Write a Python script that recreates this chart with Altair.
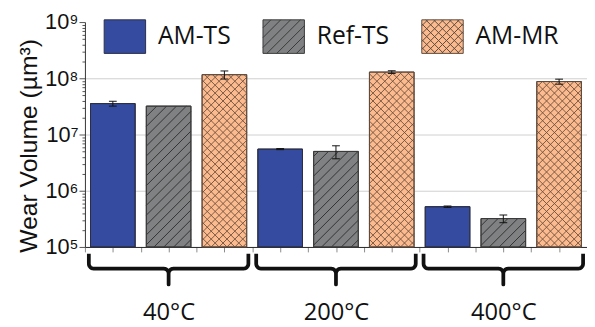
import math
import altair as alt
import pandas as pd

# ---------------- data ----------------
groups = ["40°C", "200°C", "400°C"]
series = ["AM-TS", "Ref-TS", "AM-MR"]
am_ts = [3.55e7, 5.5e6, 5.2e5]
am_ts_err = [0.35e7, 0.12e6, 0.15e5]
ref_ts = [3.2e7, 5.0e6, 3.2e5]
ref_ts_err = [0.0, 1.3e6, 0.5e5]
am_mr = [1.16e8, 1.29e8, 8.75e7]
am_mr_err = [0.19e8, 0.07e8, 0.9e7]

fill_colors = ["#344b9f", "#7f8182", "#fbbb8f"]
edge_colors = ["#2c2f45", "#3a3a3a", "#5e4a3e"]
hatch_ref_color = "#333333"
hatch_mr_color = "#6e4e3c"

# ---------------- layout ----------------
W, H = 509, 228
Y_LO, Y_HI = 1e5, 1e9
N_SLOTS = len(groups) * len(series)
SX = W / N_SLOTS
SY = H / (math.log10(Y_HI) - math.log10(Y_LO))
BAR_PAD = 0.1
CAP = 0.07

values = dict(zip(series, [am_ts, ref_ts, am_mr]))
errors = dict(zip(series, [am_ts_err, ref_ts_err, am_mr_err]))

rows = []
for g, grp in enumerate(groups):
    for s, ser in enumerate(series):
        i = g * len(series) + s
        v = values[ser][g]
        e = errors[ser][g]
        rows.append(dict(group=grp, series=ser, x0=i + BAR_PAD, x1=i + 1 - BAR_PAD,
                         xc=i + 0.5, value=v, base=Y_LO, lo=v - e, hi=v + e, err=e))
bars = pd.DataFrame(rows)


def hatch_segments(x0, x1, v, slope, spacing_px):
    X0, X1 = x0 * SX, x1 * SX
    Y0, Y1 = 0.0, (math.log10(v) - math.log10(Y_LO)) * SY
    out = []
    if slope > 0:
        cmin, cmax = Y0 - X1, Y1 - X0
    else:
        cmin, cmax = X0 + Y0, X1 + Y1
    k = math.ceil(cmin / spacing_px)
    while k * spacing_px <= cmax:
        c = k * spacing_px
        if slope > 0:
            xa, xb = max(X0, Y0 - c), min(X1, Y1 - c)
            ya, yb = xa + c, xb + c
        else:
            xa, xb = max(X0, c - Y1), min(X1, c - Y0)
            ya, yb = c - xa, c - xb
        if xb - xa > 0.5:
            out.append(dict(hx=xa / SX, hx2=xb / SX,
                            hy=Y_LO * 10 ** (ya / SY), hy2=Y_LO * 10 ** (yb / SY)))
        k += 1
    return out


ref_h, mr_h = [], []
for r in rows:
    if r["series"] == "Ref-TS":
        ref_h += hatch_segments(r["x0"], r["x1"], r["value"], 1, 10.0)
    if r["series"] == "AM-MR":
        mr_h += hatch_segments(r["x0"], r["x1"], r["value"], 1, 8.0)
        mr_h += hatch_segments(r["x0"], r["x1"], r["value"], -1, 8.0)
ref_h = pd.DataFrame(ref_h)
mr_h = pd.DataFrame(mr_h)

errs = bars[bars["err"] > 0].copy()
caps = []
for _, r in errs.iterrows():
    for yv in (r["lo"], r["hi"]):
        caps.append(dict(cx=r["xc"] - CAP, cx2=r["xc"] + CAP, cy=yv))
caps = pd.DataFrame(caps)

# braces (decoration under each temperature group)
B_INSET, B_R, B_LINE, B_TIP = 0.07, 5.0, 15.0, 31.0
brace = []


def arc(cx, cy, a0, a1, n=6):
    return [(cx + B_R * math.cos(math.radians(a0 + (a1 - a0) * t / n)),
             cy + B_R * math.sin(math.radians(a0 + (a1 - a0) * t / n))) for t in range(n + 1)]


for g, grp in enumerate(groups):
    L = (g * 3 + B_INSET) * SX
    R = (g * 3 + 3 - B_INSET) * SX
    M = (g * 3 + 1.5) * SX
    pts = [(L, 0.0)]
    pts += arc(L + B_R, B_LINE - B_R, 180, 90)
    pts += arc(M - B_R, B_LINE + B_R, -90, 0)
    pts += [(M, B_TIP), (M, B_LINE + B_R)]
    pts += arc(M + B_R, B_LINE + B_R, 180, 270)
    pts += arc(R - B_R, B_LINE - B_R, 90, 0)
    pts += [(R, 0.0)]
    for k, (px, py) in enumerate(pts):
        brace.append(dict(group=grp, k=k, bx=px / SX, by=py))
brace = pd.DataFrame(brace)

# legend swatch shapes (unit square paths incl. hatch)
SW_W, SW_H = 42.0, 34.0


def swatch_path(dirs, spacing_px):
    h = SW_H / SW_W
    parts = [f"M-1,{-h:.3f}L1,{-h:.3f}L1,{h:.3f}L-1,{h:.3f}Z"]
    sp = spacing_px * 2 / SW_W
    for d in dirs:
        k = math.ceil((-1 - h) / sp)
        while k * sp <= 1 + h:
            c = k * sp
            xa, xb = max(-1, c - h), min(1, c + h)
            if xb - xa > 0.02:
                if d > 0:
                    ya, yb = c - xa, c - xb
                else:
                    ya, yb = xa - c, xb - c
                parts.append(f"M{xa:.3f},{ya:.3f}L{xb:.3f},{yb:.3f}")
            k += 1
    return "".join(parts)


shapes = [swatch_path([], 10), swatch_path([1], 10.0), swatch_path([1, -1], 8.0)]
leg_pts = pd.DataFrame(dict(series=series, lx=[0.5, 1.5, 2.5], ly=[2e5, 2e5, 2e5]))

# ---------------- encodings ----------------
xvals = [k * 0.5 for k in range(2 * N_SLOTS + 1)]
x_label_expr = " : ".join(
    f"abs(datum.value - {g * 3 + 1.5}) < 0.01 ? '{name}'" for g, name in enumerate(groups)
) + " : ''"
xaxis = alt.Axis(values=xvals, labelExpr=x_label_expr, title=None, grid=False,
                 domainColor="#222222", domainWidth=1, tickColor="#8a8a8a", tickSize=5,
                 labelFont="Open Sans", labelFontSize=24, labelColor="#111111",
                 labelPadding=50, labelOverlap=False, labelFlush=False)
xscale = alt.Scale(domain=[0, N_SLOTS], nice=False, zero=False)

major = "abs(log(datum.value)/LN10 - round(log(datum.value)/LN10)) < 0.000001"
sup = "['⁰','¹','²','³','⁴','⁵','⁶','⁷','⁸','⁹']"
yvals = [m * 10 ** e for e in range(5, 9) for m in range(1, 10)] + [1e9]
yaxis = alt.Axis(values=yvals,
                 labelExpr=f"{major} ? '10' + {sup}[round(log(datum.value)/LN10)] : ''",
                 title="Wear Volume (µm³)", titleFont="Liberation Sans", titleFontSize=25,
                 titleFontWeight="normal", titleColor="#111111", titlePadding=3, titleY=125,
                 labelFont="Liberation Sans", labelFontSize=22, labelColor="#111111",
                 labelPadding=1, labelOverlap=False, labelFlush=False,
                 domainColor="#333333", tickColor="#555555",
                 tickSize=alt.condition(major, alt.value(6), alt.value(3)),
                 grid=True, gridColor="#cfcfcf",
                 gridOpacity=alt.condition(f"datum.value > 500000 && datum.value < 500000000 && {major}",
                                           alt.value(1), alt.value(0)))
yscale = alt.Scale(type="log", domain=[Y_LO, Y_HI], nice=False)


def X(f):
    return alt.X(f"{f}:Q", scale=xscale, axis=xaxis)


def Y(f):
    return alt.Y(f"{f}:Q", scale=yscale, axis=yaxis)


fill_scale = alt.Scale(domain=series, range=fill_colors)
leg = alt.Legend(title=None, orient="none", legendX=19, legendY=-7, direction="horizontal",
                 columns=3, gridAlign="all",
                 symbolSize=SW_W * SW_W, symbolStrokeWidth=1, labelFont="Open Sans",
                 labelFontSize=25, labelColor="#111111", labelOffset=12, columnPadding=19,
                 padding=0, symbolOpacity=1)

legend_layer = alt.Chart(leg_pts).mark_point(filled=True, opacity=1, size=1, strokeWidth=1).encode(
    x=X("lx"), y=Y("ly"),
    fill=alt.Fill("series:N", scale=fill_scale, legend=leg),
    shape=alt.Shape("series:N", scale=alt.Scale(domain=series, range=shapes), legend=leg),
    stroke=alt.Stroke("series:N", scale=alt.Scale(domain=series, range=edge_colors), legend=leg),
)

bar_layer = alt.Chart(bars).mark_rect(strokeWidth=1).encode(
    x=X("x0"), x2="x1", y=Y("value"), y2="base",
    fill=alt.Fill("series:N", scale=fill_scale, legend=None),
    stroke=alt.Stroke("series:N", scale=alt.Scale(domain=series, range=edge_colors), legend=None),
)

ref_layer = alt.Chart(ref_h).mark_rule(strokeWidth=1, color=hatch_ref_color).encode(
    x=X("hx"), x2="hx2", y=Y("hy"), y2="hy2")
mr_layer = alt.Chart(mr_h).mark_rule(strokeWidth=1, color=hatch_mr_color, opacity=0.9).encode(
    x=X("hx"), x2="hx2", y=Y("hy"), y2="hy2")

edge_layer = alt.Chart(bars).mark_rect(fill=None, strokeWidth=1, filled=False).encode(
    x=X("x0"), x2="x1", y=Y("value"), y2="base",
    stroke=alt.Stroke("series:N", scale=alt.Scale(domain=series, range=edge_colors), legend=None),
)

err_layer = alt.Chart(errs).mark_rule(strokeWidth=1, color="#111111").encode(
    x=X("xc"), y=Y("lo"), y2="hi")
cap_layer = alt.Chart(caps).mark_rule(strokeWidth=1, color="#111111").encode(
    x=X("cx"), x2="cx2", y=Y("cy"))

inner = alt.layer(legend_layer, bar_layer, ref_layer, mr_layer, edge_layer, err_layer, cap_layer)

brace_layer = alt.Chart(brace).mark_line(strokeWidth=3.8, color="#111111", strokeJoin="round",
                                         strokeCap="butt").encode(
    x=X("bx"),
    y=alt.Y("by:Q", scale=alt.Scale(domain=[0, B_TIP], range=[H + 7, H + 7 + B_TIP]), axis=None),
    detail="group:N", order="k:Q")

chart = alt.layer(inner, brace_layer).resolve_scale(y="independent").properties(
    width=W, height=H, autosize="none",
    padding={"left": 78, "top": 12, "right": 0, "bottom": 87},
    background="white",
).configure_view(stroke=None)

chart.save("out.html", embed_options={"renderer": "svg", "actions": False})
